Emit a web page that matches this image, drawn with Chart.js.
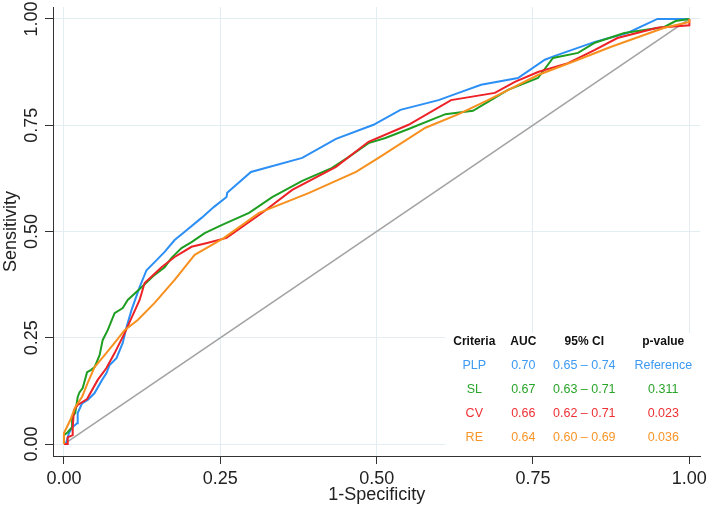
<!DOCTYPE html>
<html>
<head>
<meta charset="utf-8">
<script src="https://cdn.jsdelivr.net/npm/chart.js@4"></script>
<style>
  html, body { margin: 0; padding: 0; background: #fff; }
  #wrap { width: 711px; height: 509px; }
</style>
</head>
<body>
<div id="wrap"><canvas id="myChart"></canvas></div>
<script>
// ROC curves, values (1-specificity, sensitivity)
const plpX = [0, 0.003, 0.008, 0.014, 0.021, 0.022, 0.029, 0.038, 0.049, 0.061, 0.068, 0.073, 0.084, 0.094, 0.100, 0.108, 0.121, 0.132, 0.145, 0.161, 0.177, 0.197, 0.220, 0.240, 0.260, 0.261, 0.299, 0.381, 0.435, 0.495, 0.538, 0.599, 0.631, 0.667, 0.726, 0.769, 0.785, 0.849, 0.901, 0.949, 1];
const plpY = [0, 0, 0.026, 0.040, 0.049, 0.073, 0.096, 0.104, 0.120, 0.151, 0.167, 0.186, 0.202, 0.238, 0.275, 0.315, 0.369, 0.409, 0.428, 0.452, 0.480, 0.504, 0.532, 0.558, 0.581, 0.591, 0.640, 0.673, 0.718, 0.751, 0.786, 0.809, 0.826, 0.845, 0.861, 0.904, 0.913, 0.946, 0.967, 1, 1];

const slX = [0, 0, 0.006, 0.013, 0.013, 0.018, 0.022, 0.025, 0.030, 0.037, 0.043, 0.049, 0.057, 0.062, 0.070, 0.081, 0.094, 0.102, 0.124, 0.145, 0.161, 0.172, 0.188, 0.204, 0.225, 0.252, 0.296, 0.333, 0.381, 0.428, 0.455, 0.487, 0.514, 0.551, 0.610, 0.654, 0.678, 0.710, 0.758, 0.782, 0.822, 0.849, 0.896, 0.960, 0.978, 1];
const slY = [0, 0.021, 0.028, 0.040, 0.064, 0.073, 0.111, 0.122, 0.132, 0.169, 0.174, 0.181, 0.209, 0.245, 0.268, 0.308, 0.320, 0.339, 0.369, 0.398, 0.416, 0.438, 0.461, 0.475, 0.496, 0.515, 0.544, 0.581, 0.619, 0.649, 0.675, 0.708, 0.720, 0.741, 0.776, 0.784, 0.805, 0.833, 0.861, 0.908, 0.920, 0.944, 0.967, 0.981, 0.995, 1];

const cvX = [0, 0.006, 0.006, 0.014, 0.014, 0.016, 0.022, 0.037, 0.054, 0.068, 0.081, 0.097, 0.121, 0.129, 0.156, 0.177, 0.204, 0.229, 0.260, 0.317, 0.365, 0.435, 0.487, 0.551, 0.619, 0.689, 0.721, 0.758, 0.806, 0.849, 0.885, 0.949, 1, 1];
const cvY = [0, 0, 0.016, 0.021, 0.040, 0.080, 0.092, 0.106, 0.151, 0.179, 0.214, 0.261, 0.339, 0.379, 0.416, 0.440, 0.464, 0.473, 0.485, 0.544, 0.598, 0.652, 0.711, 0.751, 0.809, 0.826, 0.852, 0.875, 0.896, 0.927, 0.955, 0.979, 0.985, 1];

const reX = [0, 0, 0.010, 0.018, 0.029, 0.038, 0.049, 0.065, 0.081, 0.097, 0.118, 0.145, 0.177, 0.209, 0.236, 0.256, 0.312, 0.392, 0.467, 0.503, 0.578, 0.631, 0.678, 0.758, 0.822, 0.874, 0.960, 1, 1];
const reY = [0, 0.026, 0.056, 0.087, 0.111, 0.144, 0.181, 0.209, 0.238, 0.268, 0.292, 0.332, 0.386, 0.445, 0.468, 0.485, 0.544, 0.591, 0.640, 0.673, 0.744, 0.776, 0.809, 0.868, 0.904, 0.934, 0.979, 0.993, 1];

const refX = [0, 1];
const refY = [0, 1];

const tickValues = [0, 0.25, 0.5, 0.75, 1];
const tickLabels = ['0.00', '0.25', '0.50', '0.75', '1.00'];

// table in the lower right
const criteria = ['PLP', 'SL', 'CV', 'RE'];
const aucValues = ['0.70', '0.67', '0.66', '0.64'];
const ciValues = ['0.65 \u2013 0.74', '0.63 \u2013 0.71', '0.62 \u2013 0.71', '0.60 \u2013 0.69'];
const pValues = ['Reference', '0.311', '0.023', '0.036'];
const headers = ['Criteria', 'AUC', '95% CI', 'p-value'];

const lineColors = ['#2b8ff5', '#1f9e22', '#ec2227', '#f7901e'];
const textColors = ['#3d9af2', '#2aa42a', '#ee3035', '#f7952a'];

const FONT = '"Liberation Sans", Arial, Helvetica, sans-serif';

const toPoints = (xs, ys) => xs.map((x, i) => ({ x: x, y: ys[i] }));

const setTicks = (scale) => {
  scale.ticks = tickValues.map((v) => ({ value: v }));
};

const tablePlugin = {
  id: 'tablePlugin',
  afterDraw(chart) {
    const ctx = chart.ctx;
    const area = chart.chartArea;
    const yScale = chart.scales.y;

    // y tick labels, rotated like the original
    ctx.save();
    ctx.fillStyle = '#222';
    ctx.font = '18px ' + FONT;
    ctx.textAlign = 'center';
    ctx.textBaseline = 'middle';
    tickValues.forEach((v, i) => {
      ctx.save();
      ctx.translate(area.left - 22, yScale.getPixelForValue(v));
      ctx.rotate(-Math.PI / 2);
      ctx.fillText(tickLabels[i], 0, 1);
      ctx.restore();
    });
    ctx.restore();

    // white box behind the table
    ctx.save();
    ctx.fillStyle = '#fff';
    ctx.fillRect(area.right - 255, area.bottom - 123, 255, 122);

    const colX = [477, 526, 587, 666].map((c) => area.right - 703 + c);
    const rowTop = area.bottom - 114;
    const rowGap = 24;
    ctx.textAlign = 'center';
    ctx.textBaseline = 'middle';

    ctx.fillStyle = '#111';
    ctx.font = 'bold 12px ' + FONT;
    headers.forEach((h, j) => ctx.fillText(h, colX[j], rowTop));

    ctx.font = '12.5px ' + FONT;
    criteria.forEach((c, i) => {
      const y = rowTop + rowGap * (i + 1);
      ctx.fillStyle = textColors[i];
      ctx.fillText(c, colX[0], y);
      ctx.fillText(aucValues[i], colX[1], y);
      ctx.fillText(ciValues[i], colX[2], y);
      ctx.fillText(pValues[i], colX[3], y);
    });
    ctx.restore();
  }
};

const curve = (label, xs, ys, color, width) => ({
  label: label,
  data: toPoints(xs, ys),
  borderColor: color,
  borderWidth: width,
  pointRadius: 0,
  tension: 0,
  fill: false
});

new Chart(document.getElementById('myChart'), {
  type: 'line',
  data: {
    datasets: [
      curve('RE', reX, reY, lineColors[3], 2),
      curve('CV', cvX, cvY, lineColors[2], 2),
      curve('SL', slX, slY, lineColors[1], 2),
      curve('PLP', plpX, plpY, lineColors[0], 2),
      curve('Reference line', refX, refY, '#a3a3a3', 1.6)
    ]
  },
  options: {
    responsive: true,
    maintainAspectRatio: false,
    animation: false,
    layout: { padding: { top: 7, right: 8, left: 0, bottom: 0 } },
    plugins: {
      legend: { display: false },
      tooltip: { enabled: false }
    },
    scales: {
      x: {
        type: 'linear',
        min: -0.0175,
        max: 1.0175,
        afterBuildTicks: setTicks,
        afterFit: (scale) => { scale.height = 53; },
        grid: { color: '#e3eef2', lineWidth: 1, tickColor: '#333', tickLength: 8 },
        border: { display: true, color: '#333', width: 1 },
        ticks: {
          color: '#222',
          font: { family: FONT, size: 18 },
          padding: 4,
          maxRotation: 0,
          callback: (v) => tickLabels[tickValues.indexOf(v)]
        },
        title: {
          display: true,
          text: '1-Specificity',
          color: '#222',
          font: { family: FONT, size: 18 },
          padding: { top: 0, bottom: 3 }
        }
      },
      y: {
        type: 'linear',
        min: -0.028,
        max: 1.028,
        afterBuildTicks: setTicks,
        afterFit: (scale) => { scale.width = 53; },
        grid: { color: '#e3eef2', lineWidth: 1, tickColor: '#333', tickLength: 8 },
        border: { display: true, color: '#333', width: 1 },
        ticks: { display: false },
        title: {
          display: true,
          text: 'Sensitivity',
          color: '#222',
          font: { family: FONT, size: 18 },
          padding: { top: 0, bottom: 0 }
        }
      }
    }
  },
  plugins: [tablePlugin]
});
</script>
</body>
</html>
